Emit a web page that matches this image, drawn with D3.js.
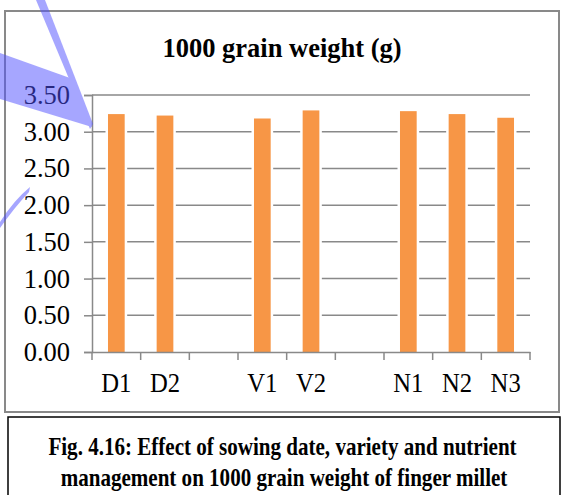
<!DOCTYPE html>
<html>
<head>
<meta charset="utf-8">
<script src="https://cdn.jsdelivr.net/npm/d3@7"></script>
<style>
  body { margin: 0; background: #fff; }
  svg text { font-family: "Liberation Serif", "Times New Roman", serif; }
</style>
</head>
<body>
<div id="Area"></div>
<script>
// chart data
var categories = ["D1", "D2", "gap1", "V1", "V2", "gap2", "N1", "N2", "N3"];
var weights = [3.24, 3.22, null, 3.18, 3.29, null, 3.28, 3.24, 3.19];
var yTicks = [0, 0.5, 1, 1.5, 2, 2.5, 3, 3.5];
var title = "1000 grain weight (g)";
var caption = ["Fig. 4.16: Effect of sowing date, variety and nutrient",
               "management on 1000 grain weight of finger millet"];

var width = 570, height = 495;
var gray = "#898989";
var orange = "#f79646";
var serif = "'Liberation Serif', 'Times New Roman', serif";

var svg = d3.select("#Area").append("svg")
    .attr("width", width)
    .attr("height", height);

// outer chart frame
svg.append("rect")
    .attr("x", 5).attr("y", 11)
    .attr("width", 554).attr("height", 401)
    .attr("fill", "#fff")
    .attr("stroke", gray)
    .attr("stroke-width", 2);

// caption box
svg.append("rect")
    .attr("x", 8).attr("y", 417)
    .attr("width", 552).attr("height", 100)
    .attr("fill", "#fff")
    .attr("stroke", "#000")
    .attr("stroke-width", 1.5);

svg.append("text")
    .attr("x", 282).attr("y", 57)
    .attr("text-anchor", "middle")
    .style("font-family", serif)
    .style("font-size", "26.5px")
    .style("font-weight", "bold")
    .text(title);

var x = d3.scaleBand()
    .domain(categories)
    .range([92, 530])
    .padding(0);

var y = d3.scaleLinear()
    .domain([0, 3.5])
    .range([352, 95]);

// gridlines
svg.append("g")
    .selectAll("line")
    .data(yTicks.slice(1))
    .enter()
    .append("line")
    .attr("x1", 92).attr("x2", 530)
    .attr("y1", function(d) { return y(d); })
    .attr("y2", function(d) { return y(d); })
    .attr("stroke", gray)
    .attr("stroke-width", 1.5);

var rows = categories.map(function(c, i) { return {cat: c, v: weights[i]}; })
    .filter(function(d) { return d.v != null; });
var bw = x.bandwidth() * 0.343;

// white halo behind the bars
svg.append("g")
    .selectAll("rect")
    .data(rows)
    .enter()
    .append("rect")
    .attr("x", function(d) { return x(d.cat) + x.bandwidth() / 2 - bw / 2 - 2.5; })
    .attr("y", function(d) { return y(d.v) - 1.5; })
    .attr("width", bw + 5)
    .attr("height", function(d) { return y(0) - y(d.v) + 1.5; })
    .attr("fill", "#fff");

svg.append("g")
    .selectAll("rect")
    .data(rows)
    .enter()
    .append("rect")
    .attr("x", function(d) { return x(d.cat) + x.bandwidth() / 2 - bw / 2; })
    .attr("y", function(d) { return y(d.v); })
    .attr("width", bw)
    .attr("height", function(d) { return y(0) - y(d.v); })
    .attr("fill", orange);

// y axis
var yAxis = svg.append("g")
    .attr("transform", "translate(92,0)")
    .call(d3.axisLeft(y).tickValues(yTicks).tickFormat(d3.format(".2f")).tickSize(8).tickPadding(14));

// x axis, ticks at band edges
var xAxis = svg.append("g")
    .attr("transform", "translate(0," + y(0) + ")")
    .call(d3.axisBottom(x).tickSize(0).tickPadding(20)
        .tickFormat(function(d) { return d.indexOf("gap") === 0 ? "" : d; }));

xAxis.append("g")
    .selectAll("line")
    .data(categories.concat(["end"]))
    .enter()
    .append("line")
    .attr("x1", function(d, i) { return 92 + i * x.step(); })
    .attr("x2", function(d, i) { return 92 + i * x.step(); })
    .attr("y1", 0).attr("y2", 8)
    .attr("stroke", gray)
    .attr("stroke-width", 1.5);

[yAxis, xAxis].forEach(function(a) {
    a.attr("font-family", serif);
    a.select(".domain").attr("stroke", gray).attr("stroke-width", 1.5);
    a.selectAll(".tick line").attr("stroke", gray).attr("stroke-width", 1.5);
    a.selectAll("text")
        .attr("fill", "#000")
        .style("font-family", serif)
        .style("font-size", "26.5px");
});
xAxis.selectAll(".tick text")
    .style("font-size", "28px")
    .attr("transform", "scale(0.88,1)");

// caption, set a little condensed like the source
svg.append("g")
    .selectAll("text")
    .data(caption)
    .enter()
    .append("text")
    .attr("transform", function(d, i) {
        return "translate(" + (i ? 284 : 282.5) + "," + (i ? 485.5 : 454.5) + ") scale(0.81,1)";
    })
    .attr("text-anchor", "middle")
    .style("font-family", serif)
    .style("font-size", "26px")
    .style("font-weight", "bold")
    .text(function(d) { return d; });

// translucent blue annotation strokes over the figure
var ann = svg.append("g").attr("fill", "rgb(80,80,255)").attr("opacity", 0.5);
ann.append("path").attr("d", "M36,0 L45,0 L93,124 L90,129 Z");
ann.append("path").attr("d", "M0,53 L70,78 L92,127 L0,99 Z");
ann.append("path").attr("d", "M0,222 Q14,200 30,187 L29,192 Q14,208 0,228 Z");
</script>
</body>
</html>
